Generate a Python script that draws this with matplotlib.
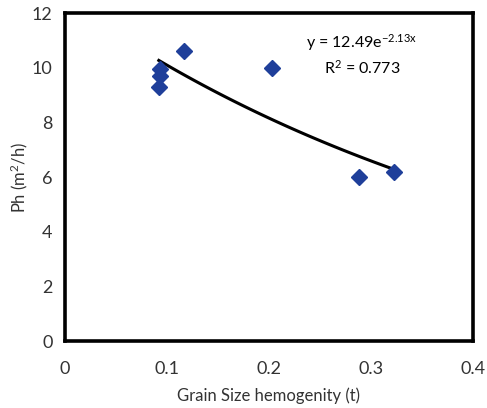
import numpy as np
import matplotlib
matplotlib.use('Agg')
import matplotlib.pyplot as plt

plt.rcParams['font.family'] = ['Lato', 'DejaVu Sans']
plt.rcParams['mathtext.default'] = 'regular'

# data
grain_t = [0.093, 0.093, 0.092, 0.117, 0.203, 0.288, 0.323]
ph = [9.95, 9.7, 9.3, 10.6, 10.0, 6.0, 6.2]

# exponential trend line as printed on the chart
fit_a = 12.49
fit_b = -2.13
eq_text = 'y = 12.49e$^{-2.13x}$'
r2_text = 'R$^2$ = 0.773'

x_ticks = [0, 0.1, 0.2, 0.3, 0.4]
x_tick_labels = ['0', '0.1', '0.2', '0.3', '0.4']
y_ticks = [0, 2, 4, 6, 8, 10, 12]

fig = plt.figure(figsize=(4.87, 4.08), dpi=100)
ax = fig.add_axes([0.1335, 0.164, 0.8375, 0.804])

xs = np.linspace(min(grain_t), max(grain_t), 100)
ax.plot(xs, fit_a * np.exp(fit_b * xs), color='black', lw=2.2, zorder=2)
ax.plot(grain_t, ph, 'D', color='#1f3f9a', ms=8, mec='#1f3f9a', zorder=3)

ax.text(0.728, 0.909, eq_text, transform=ax.transAxes, ha='center', va='center', fontsize=11.5)
ax.text(0.728, 0.832, r2_text, transform=ax.transAxes, ha='center', va='center', fontsize=11.5)

ax.set_xlim(0, 0.4)
ax.set_ylim(0, 12)
ax.set_xticks(x_ticks)
ax.set_xticklabels(x_tick_labels)
ax.set_yticks(y_ticks)
ax.tick_params(length=0, labelsize=13, colors='#333333')
ax.tick_params(axis='x', pad=14)
ax.tick_params(axis='y', pad=9)
for s in ax.spines.values():
    s.set_linewidth(2.6)
    s.set_color('black')

ax.set_xlabel('Grain Size hemogenity (t)', fontsize=12, color='#333333', labelpad=8)
ax.set_ylabel('Ph (m$^2$/h)', fontsize=12, color='#333333', labelpad=1)

fig.savefig('out.png', dpi=100)
